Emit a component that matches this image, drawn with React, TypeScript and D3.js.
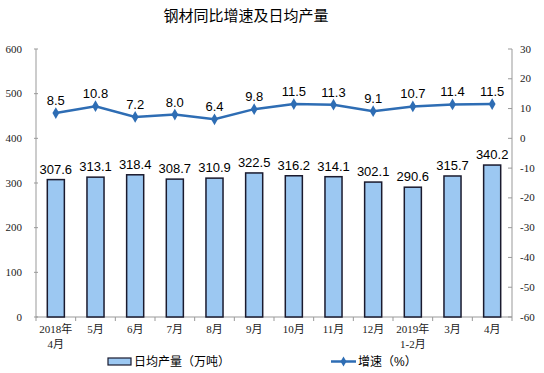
import React, { useEffect, useRef } from 'react';
import * as d3 from 'd3';

const title = '钢材同比增速及日均产量';
const months = ['2018年\n4月', '5月', '6月', '7月', '8月', '9月', '10月', '11月', '12月', '2019年\n1-2月', '3月', '4月'];
const dailyOutput = [307.6, 313.1, 318.4, 308.7, 310.9, 322.5, 316.2, 314.1, 302.1, 290.6, 315.7, 340.2];
const growth = [8.5, 10.8, 7.2, 8.0, 6.4, 9.8, 11.5, 11.3, 9.1, 10.7, 11.4, 11.5];
const leftTicks = [0, 100, 200, 300, 400, 500, 600];
const rightTicks = [30, 20, 10, 0, -10, -20, -30, -40, -50, -60];
const barLegend = '日均产量（万吨）';
const lineLegend = '增速（%）';

const App = () => {
  const svgRef = useRef<SVGSVGElement>(null);

  useEffect(() => {
    const svg = d3.select(svgRef.current);
    svg.selectAll('*').remove();

    const left = 36, right = 512, top = 49, bottom = 317;
    const serif = '"Liberation Serif", "Noto Sans CJK SC", serif';
    const sans = '"Liberation Sans", Arial, "Noto Sans CJK SC", sans-serif';
    const blue = '#2e6db4';
    const axisColor = '#999';

    const x = d3.scaleBand().domain(months).range([left, right]).paddingInner(0.57).paddingOuter(0.285);
    const yL = d3.scaleLinear().domain([0, 600]).range([bottom, top]);
    const yR = d3.scaleLinear().domain([-60, 30]).range([bottom, top]);
    const cx = (i: number) => x(months[i])! + x.bandwidth() / 2;

    svg.append('text')
      .attr('x', 246).attr('y', 21)
      .attr('text-anchor', 'middle')
      .style('font-family', sans).style('font-size', '15px')
      .text(title);

    // left axis (small cross ticks)
    svg.append('line').attr('x1', left).attr('x2', left).attr('y1', top).attr('y2', bottom).attr('stroke', axisColor);
    leftTicks.forEach((t) => {
      svg.append('line').attr('x1', left - 2).attr('x2', left + 2).attr('y1', yL(t)).attr('y2', yL(t)).attr('stroke', axisColor);
      svg.append('text').attr('x', left - 14).attr('y', yL(t)).attr('dy', '0.32em')
        .attr('text-anchor', 'end')
        .style('font-family', serif).style('font-size', '11px').attr('fill', '#222')
        .text(t);
    });

    // right axis (ticks inward)
    svg.append('line').attr('x1', right).attr('x2', right).attr('y1', top).attr('y2', bottom).attr('stroke', axisColor);
    rightTicks.forEach((t) => {
      svg.append('line').attr('x1', right - 4).attr('x2', right).attr('y1', yR(t)).attr('y2', yR(t)).attr('stroke', axisColor);
      svg.append('text').attr('x', right + 8).attr('y', yR(t)).attr('dy', '0.32em')
        .style('font-family', serif).style('font-size', '11px').attr('fill', '#222')
        .text(t);
    });

    // x axis line + boundary ticks
    svg.append('line').attr('x1', left).attr('x2', right).attr('y1', bottom).attr('y2', bottom).attr('stroke', axisColor);
    const step = x.step();
    d3.range(months.length + 1).forEach((i) => {
      const xx = left + i * step;
      svg.append('line').attr('x1', xx).attr('x2', xx).attr('y1', bottom).attr('y2', bottom + 4).attr('stroke', axisColor);
    });

    months.forEach((m, i) => {
      const t = svg.append('text')
        .attr('x', cx(i)).attr('y', bottom + 16)
        .attr('text-anchor', 'middle')
        .style('font-family', serif).style('font-size', '11px').attr('fill', '#222');
      m.split('\n').forEach((l, j) => {
        t.append('tspan').attr('x', cx(i)).attr('dy', j === 0 ? 0 : 15).text(l);
      });
    });

    // bars
    svg.selectAll('rect.bar').data(dailyOutput).enter().append('rect')
      .attr('class', 'bar')
      .attr('x', (d, i) => x(months[i])!)
      .attr('y', (d) => yL(d))
      .attr('width', x.bandwidth())
      .attr('height', (d) => bottom - yL(d))
      .attr('fill', '#9cc8f2')
      .attr('stroke', '#1a1a2e')
      .attr('stroke-width', 1.5);

    svg.selectAll('text.bl').data(dailyOutput).enter().append('text')
      .attr('class', 'bl')
      .attr('x', (d, i) => cx(i))
      .attr('y', (d) => yL(d) - 6)
      .attr('text-anchor', 'middle')
      .style('font-family', sans).style('font-size', '13px')
      .text((d) => d.toFixed(1));

    // line
    const line = d3.line<number>()
      .x((d, i) => cx(i))
      .y((d) => yR(d));
    svg.append('path').datum(growth).attr('d', line).attr('fill', 'none').attr('stroke', blue).attr('stroke-width', 2.5);

    svg.selectAll('path.mk').data(growth).enter().append('path')
      .attr('class', 'mk')
      .attr('d', d3.symbol(d3.symbolDiamond, 40))
      .attr('transform', (d, i) => `translate(${cx(i)},${yR(d)})`)
      .attr('fill', blue);

    svg.selectAll('text.ll').data(growth).enter().append('text')
      .attr('class', 'll')
      .attr('x', (d, i) => cx(i))
      .attr('y', (d) => yR(d) - 8)
      .attr('text-anchor', 'middle')
      .style('font-family', sans).style('font-size', '13px')
      .text((d) => d.toFixed(1));

    // legend
    svg.append('rect').attr('x', 108).attr('y', 358).attr('width', 23).attr('height', 7)
      .attr('fill', '#9cc8f2').attr('stroke', '#1a1a2e').attr('stroke-width', 1.2);
    svg.append('text').attr('x', 134).attr('y', 366)
      .style('font-family', sans).style('font-size', '12px').text(barLegend);

    svg.append('line').attr('x1', 331).attr('x2', 356).attr('y1', 361.5).attr('y2', 361.5).attr('stroke', blue).attr('stroke-width', 2.5);
    svg.append('path').attr('d', d3.symbol(d3.symbolDiamond, 30)).attr('transform', 'translate(343.5,361.5)').attr('fill', blue);
    svg.append('text').attr('x', 358).attr('y', 366)
      .style('font-family', sans).style('font-size', '12px').text(lineLegend);
  }, []);

  return (
    <svg ref={svgRef} width={544} height={373}
      style={{ position: 'absolute', left: 0, top: 0, background: '#fff' }} />
  );
};

export default App;
